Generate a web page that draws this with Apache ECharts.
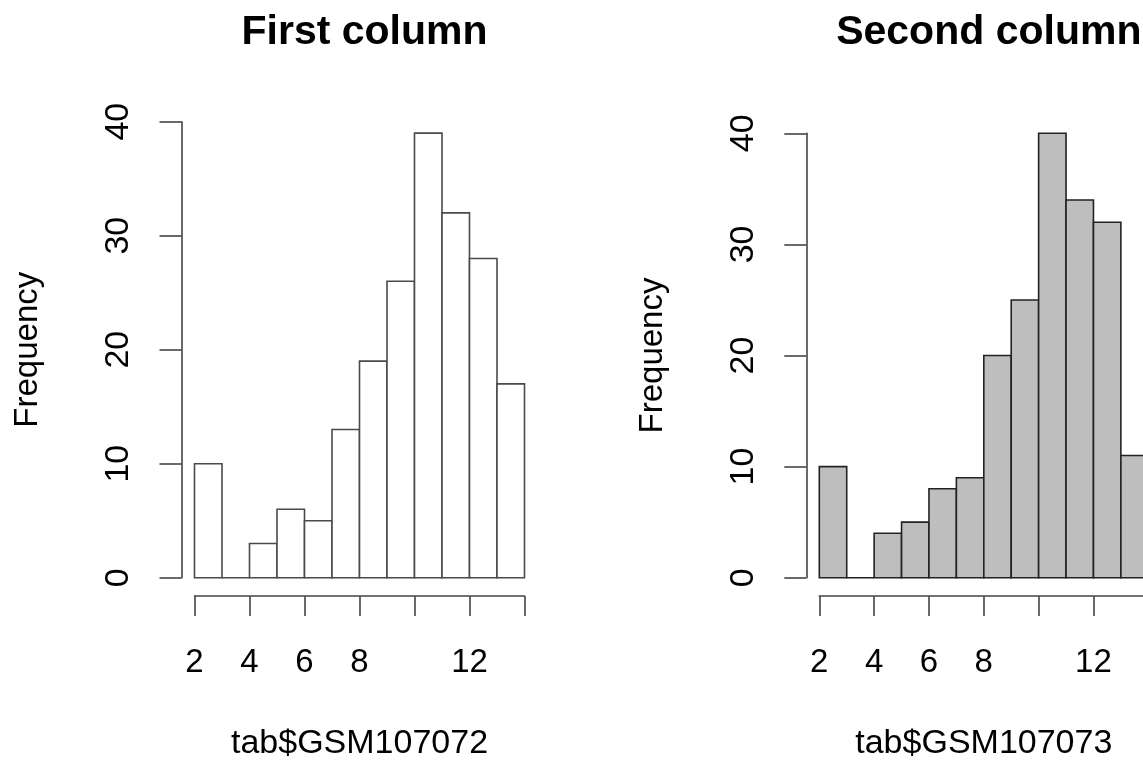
<!DOCTYPE html>
<html><head><meta charset="utf-8">
<script src="https://cdn.jsdelivr.net/npm/echarts@6/dist/echarts.min.js"></script>
<style>html,body{margin:0;padding:0;overflow:hidden;background:#fff}#c{width:1200px;height:766px}</style>
</head><body><div id="c"></div>
<script>
// ---- data ----
const binEdges = [2,3,4,5,6,7,8,9,10,11,12,13,14];
const countsFirst = [10,0,3,6,5,13,19,26,39,32,28,17];
const countsSecond = [10,0,4,5,8,9,20,25,40,34,32,11];
const panelTitles = ['First column', 'Second column'];
const xAxisTitles = ['tab$GSM107072', 'tab$GSM107073'];
const yAxisTitle = 'Frequency';
const xTicks = [2,4,6,8,10,12,14];
const xTickLabels = ['2','4','6','8','','12',''];
const yTicks = [0,10,20,30,40];

// ---- layout ----
const FONT = "'Liberation Sans', Arial, Helvetica, sans-serif";
const panels = [
  {left: 194.5, width: 330, top: 121.7, height: 458.3, fill: '#ffffff', stroke: '#4a4a4a', counts: countsFirst},
  {left: 819.3, width: 329, top: 133.3, height: 446.7, fill: '#bebebe', stroke: '#222222', counts: countsSecond}
];

function histData(counts) {
  return counts.map((c, i) => [binEdges[i], binEdges[i + 1], c]);
}

const option = {
  animation: false,
  backgroundColor: '#ffffff',
  title: panels.map((p, i) => ({
    text: panelTitles[i],
    left: p.left + p.width / 2,
    top: 7,
    textAlign: 'center',
    textStyle: {fontFamily: FONT, fontSize: 41, fontWeight: 'bold', color: '#000'}
  })),
  grid: panels.map(p => ({left: p.left, top: p.top, width: p.width, height: p.height, containLabel: false})),
  xAxis: panels.map((p, i) => ({
    type: 'value', gridIndex: i, min: xTicks[0], max: xTicks[xTicks.length - 1], interval: 2,
    offset: 18.3,
    axisLine: {show: true, onZero: false, lineStyle: {color: '#444', width: 1.6}},
    axisTick: {show: true, inside: false, length: 20, lineStyle: {color: '#444', width: 1.6}},
    axisLabel: {
      show: true, margin: 50, fontFamily: FONT, fontSize: 33, color: '#000',
      formatter: v => { const k = xTicks.indexOf(v); return k >= 0 ? xTickLabels[k] : ''; }
    },
    splitLine: {show: false},
    name: xAxisTitles[i], nameLocation: 'middle', nameGap: 131,
    nameTextStyle: {fontFamily: FONT, fontSize: 34, color: '#000'}
  })),
  yAxis: panels.map((p, i) => ({
    type: 'value', gridIndex: i, min: yTicks[0], max: yTicks[yTicks.length - 1], interval: 10,
    offset: 13,
    axisLine: {show: true, onZero: false, lineStyle: {color: '#444', width: 1.6}},
    axisTick: {show: true, inside: false, length: 22, lineStyle: {color: '#444', width: 1.6}},
    axisLabel: {show: true, rotate: 90, margin: 46, fontFamily: FONT, fontSize: 34, color: '#000'},
    splitLine: {show: false},
    name: yAxisTitle, nameLocation: 'middle', nameGap: 137, nameRotate: 90,
    nameTextStyle: {fontFamily: FONT, fontSize: 33, color: '#000'}
  })),
  series: panels.map((p, i) => ({
    type: 'custom', xAxisIndex: i, yAxisIndex: i,
    data: histData(p.counts),
    clip: false,
    renderItem: (params, api) => {
      const a = api.coord([api.value(0), 0]);
      const b = api.coord([api.value(1), api.value(2)]);
      return {
        type: 'rect',
        shape: {x: a[0], y: b[1], width: b[0] - a[0], height: a[1] - b[1]},
        style: {fill: p.fill, stroke: p.stroke, lineWidth: 1.6}
      };
    }
  }))
};

const chart = echarts.init(document.getElementById('c'), null, {renderer: 'canvas'});
chart.setOption(option);
</script>
</body></html>
